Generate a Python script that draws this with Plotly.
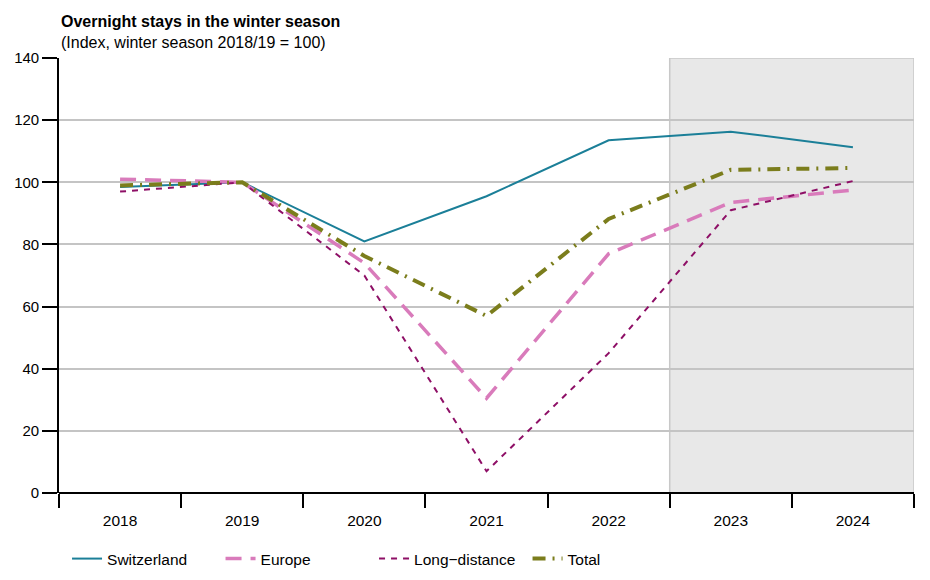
import plotly.graph_objects as go

years = ["2018", "2019", "2020", "2021", "2022", "2023", "2024"]
switzerland = [98.5, 100, 81.0, 95.5, 113.5, 116.3, 111.3]
europe = [101.0, 100, 74.0, 30.5, 77.0, 93.5, 97.5]
long_distance = [97.0, 100, 70.0, 7.0, 45.0, 91.0, 100.4]
total = [99.0, 100, 76.3, 57.0, 88.2, 104.0, 104.6]

series = [
    ("Switzerland", switzerland, "#1b7f98", 2, "solid"),
    ("Europe", europe, "#d97bbb", 3.5, "16px,9px"),
    ("Long\u2212distance", long_distance, "#8e0f66", 2, "6px,6px"),
    ("Total", total, "#7b7d1c", 4, "13px,7px,2px,7px"),
]

fig = go.Figure()
for name, vals, color, width, dash in series:
    fig.add_trace(go.Scatter(
        x=years, y=vals, name=name, mode="lines",
        line=dict(color=color, width=width, dash=dash),
    ))

fig.add_shape(type="rect", xref="x", yref="y", x0=4.5, x1=6.5, y0=0, y1=140,
              fillcolor="#e8e8e8", line=dict(color="#c8c8c8", width=1.5), layer="below")

# page body has an 8px margin, so the figure is offset by 8px
fig.update_layout(
    width=922, height=572,
    margin=dict(l=51, r=16, t=50, b=87, autoexpand=False),
    plot_bgcolor="white", paper_bgcolor="white",
    font=dict(family="Liberation Sans, Arial, sans-serif", size=15, color="#000000"),
    showlegend=True,
    legend=dict(orientation="h", x=0.0094, xanchor="left", y=0.0367, yanchor="middle",
                yref="container", entrywidth=108.5, entrywidthmode="pixels",
                font=dict(size=15.5), traceorder="normal"),
    xaxis=dict(type="category", range=[-0.5, 6.5], tickson="boundaries",
               ticks="outside", ticklen=14, tickwidth=1.6, tickcolor="black",
               ticklabelstandoff=16,
               showgrid=False, showline=False, zeroline=False,
               tickfont=dict(size=15.5)),
    yaxis=dict(range=[0, 140], dtick=20, ticks="outside", ticklen=15, tickwidth=1.6,
               tickcolor="black", showline=True, linecolor="black", linewidth=1.6,
               showgrid=True, gridcolor="#c4c4c4", gridwidth=1.6,
               zeroline=True, zerolinecolor="black", zerolinewidth=1.6,
               tickfont=dict(size=15)),
    annotations=[
        dict(text="<b>Overnight stays in the winter season</b>", xref="paper", yref="paper",
             x=0, y=1, xanchor="left", yanchor="middle", yshift=37, showarrow=False,
             font=dict(size=16)),
        dict(text="(Index, winter season 2018/19 = 100)", xref="paper", yref="paper",
             x=0, y=1, xanchor="left", yanchor="middle", yshift=16, showarrow=False,
             font=dict(size=16)),
    ],
)

fig.write_html("out.html")
